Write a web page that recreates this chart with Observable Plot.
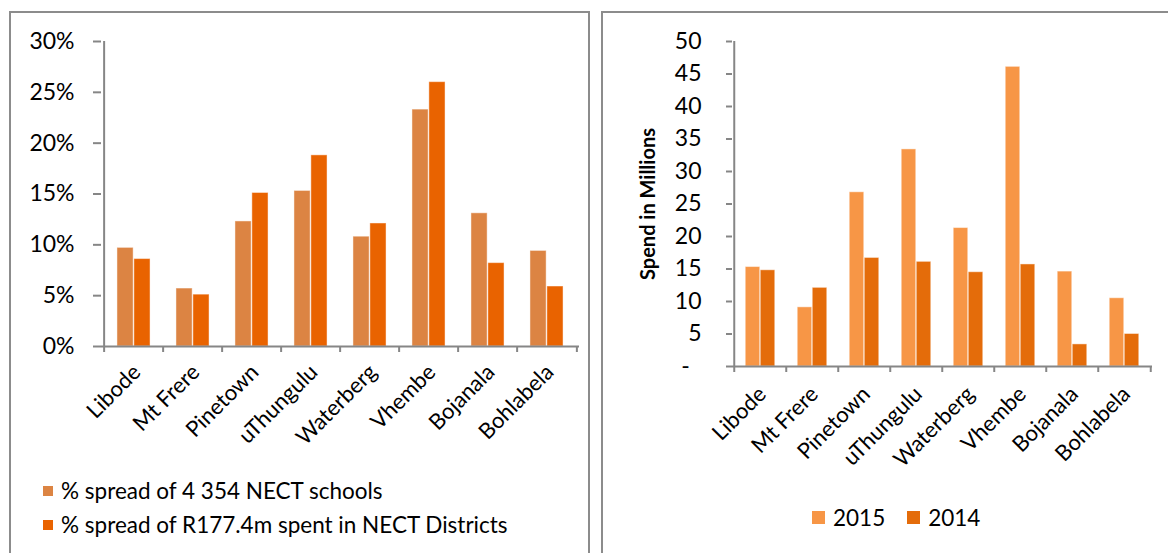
<!DOCTYPE html>
<html>
<head>
<meta charset="utf-8">
<script src="https://cdn.jsdelivr.net/npm/d3@7"></script>
<script src="https://cdn.jsdelivr.net/npm/@observablehq/plot@0.6"></script>
<style>
  html, body { margin: 0; padding: 0; background: #fff; width: 1168px; height: 553px; overflow: hidden; font-family: Lato, "Open Sans", sans-serif; color: #000; }
  .panel { position: absolute; box-sizing: border-box; border: 2px solid #8c8c8c; background: #fff; }
  .chart { position: absolute; left: 0; top: 0; }
  .legend { position: absolute; font-size: 22.5px; line-height: 27px; color: #000; white-space: nowrap; }
  .legend .row { display: flex; align-items: center; }
  .legend .sw { display: inline-block; margin-right: 8px; }
</style>
</head>
<body>
<div class="panel" style="left:9px; top:11px; width:581px; height:600px;"></div>
<div class="panel" style="left:601px; top:11px; width:600px; height:600px;"></div>
<div id="left" class="chart" style="left:0; top:0;"></div>
<div id="right" class="chart" style="left:600px; top:0;"></div>
<div id="legendLeft" class="legend" style="left:43px; top:477px;"></div>
<div id="legendRight" class="legend" style="left:812px; top:504px;"></div>
<script>
// ---------- data ----------
const categories = ["Libode", "Mt Frere", "Pinetown", "uThungulu", "Waterberg", "Vhembe", "Bojanala", "Bohlabela"];

const leftSeries = ["% spread of 4 354 NECT schools", "% spread of R177.4m spent in NECT Districts"];
const schoolsSharePct = [9.7, 5.7, 12.3, 15.3, 10.8, 23.3, 13.1, 9.4];
const spendSharePct = [8.6, 5.1, 15.1, 18.8, 12.1, 26.0, 8.2, 5.9];
const leftTicks = [0, 5, 10, 15, 20, 25, 30];

const rightSeries = ["2015", "2014"];
const spend2015 = [15.3, 9.1, 26.8, 33.4, 21.3, 46.1, 14.6, 10.5];
const spend2014 = [14.8, 12.1, 16.7, 16.1, 14.5, 15.7, 3.4, 5.0];
const rightTicks = [0, 5, 10, 15, 20, 25, 30, 35, 40, 45, 50];
const rightYLabel = "Spend in Millions";

// ---------- styles ----------
const leftColors = ["#DC8443", "#E96300"];
const rightColors = ["#F79646", "#E46C0A"];
const axisGray = "#868686";
const font = "Lato, 'Open Sans', sans-serif";

function groupedChart({width, height, ml, mr, mt, mb, seriesValues, colors, ticks, tickFormat, yTickSize, yTickPadding, outerFrac, barFrac, xLabelPadding, xLabelDx, extraMarks = []}) {
  const bw = (width - ml - mr) / categories.length;
  const outer = bw * outerFrac;
  const bar = bw * barFrac;
  const rows = [];
  seriesValues.forEach((vals, si) => categories.forEach((c, i) => rows.push({cat: c, s: si, v: vals[i]})));
  const barMarks = seriesValues.map((vals, si) => Plot.barY(rows.filter(r => r.s === si), {
    x: "cat", y: "v", fill: colors[si],
    stroke: "#ffffff", strokeOpacity: 0.45, strokeWidth: 1,
    insetLeft: si === 0 ? outer : outer + bar,
    insetRight: si === 0 ? bw - outer - bar : outer
  }));
  const yMax = ticks[ticks.length - 1];
  return Plot.plot({
    width, height,
    marginLeft: ml, marginRight: mr, marginTop: mt, marginBottom: mb,
    style: {fontFamily: font, fontSize: "22px", color: "#000", background: "transparent", overflow: "visible"},
    x: {domain: categories, padding: 0, axis: null, label: null},
    y: {domain: [0, yMax], axis: null, label: null},
    marks: [
      ...barMarks,
      Plot.ruleY([0], {stroke: axisGray, strokeWidth: 2}),
      Plot.ruleX([categories[0]], {dx: -bw / 2, y1: 0, y2: yMax, stroke: axisGray, strokeWidth: 2}),
      Plot.axisY({ticks, label: null, tickSize: yTickSize, tickPadding: yTickPadding, tickFormat, stroke: axisGray, strokeWidth: 2, fontSize: 23, fill: "#000"}),
      Plot.axisX({label: null, tickSize: 6, tickFormat: () => "", dx: -bw / 2, stroke: axisGray, strokeWidth: 2}),
      Plot.axisX({label: null, ticks: [categories[categories.length - 1]], tickSize: 6, tickFormat: () => "", dx: bw / 2, stroke: axisGray, strokeWidth: 2}),
      Plot.axisX({label: null, tickSize: 0, tickRotate: -45, tickPadding: xLabelPadding, dx: xLabelDx, fontSize: 22, fill: "#000"}),
      ...extraMarks
    ]
  });
}

const left = groupedChart({
  width: 600, height: 470, ml: 101, mr: 21, mt: 41, mb: 124,
  seriesValues: [schoolsSharePct, spendSharePct], colors: leftColors,
  ticks: leftTicks, tickFormat: d => d + "%", yTickSize: 8, yTickPadding: 19,
  outerFrac: 0.217, barFrac: 0.283, xLabelPadding: 22, xLabelDx: 3
});
document.getElementById("left").appendChild(left);

const right = groupedChart({
  width: 568, height: 470, ml: 132, mr: 16, mt: 41, mb: 104,
  seriesValues: [spend2015, spend2014], colors: rightColors,
  ticks: rightTicks, tickFormat: d => d === 0 ? "-\u00a0\u00a0" : String(d), yTickSize: 6, yTickPadding: 25,
  outerFrac: 0.214, barFrac: 0.286, xLabelPadding: 24, xLabelDx: 2,
  extraMarks: [Plot.text([rightYLabel], {frameAnchor: "left", textAnchor: "middle", dx: -84, rotate: -90, fontWeight: "bold", fontSize: 20, fill: "#000"})]
});
document.getElementById("right").appendChild(right);

// ---------- legends ----------
function legend(el, names, colors, size, vertical, gap) {
  const box = document.getElementById(el);
  box.style.display = "flex";
  box.style.flexDirection = vertical ? "column" : "row";
  box.style.gap = gap + "px";
  names.forEach((n, i) => {
    const row = document.createElement("div");
    row.className = "row";
    const sw = document.createElement("span");
    sw.className = "sw";
    sw.style.width = size + "px";
    sw.style.height = size + "px";
    sw.style.background = colors[i];
    const t = document.createElement("span");
    t.textContent = n;
    row.appendChild(sw); row.appendChild(t);
    box.appendChild(row);
  });
}
legend("legendLeft", leftSeries, leftColors, 10, true, 7);
legend("legendRight", rightSeries, rightColors, 13, false, 22);
</script>
</body>
</html>
